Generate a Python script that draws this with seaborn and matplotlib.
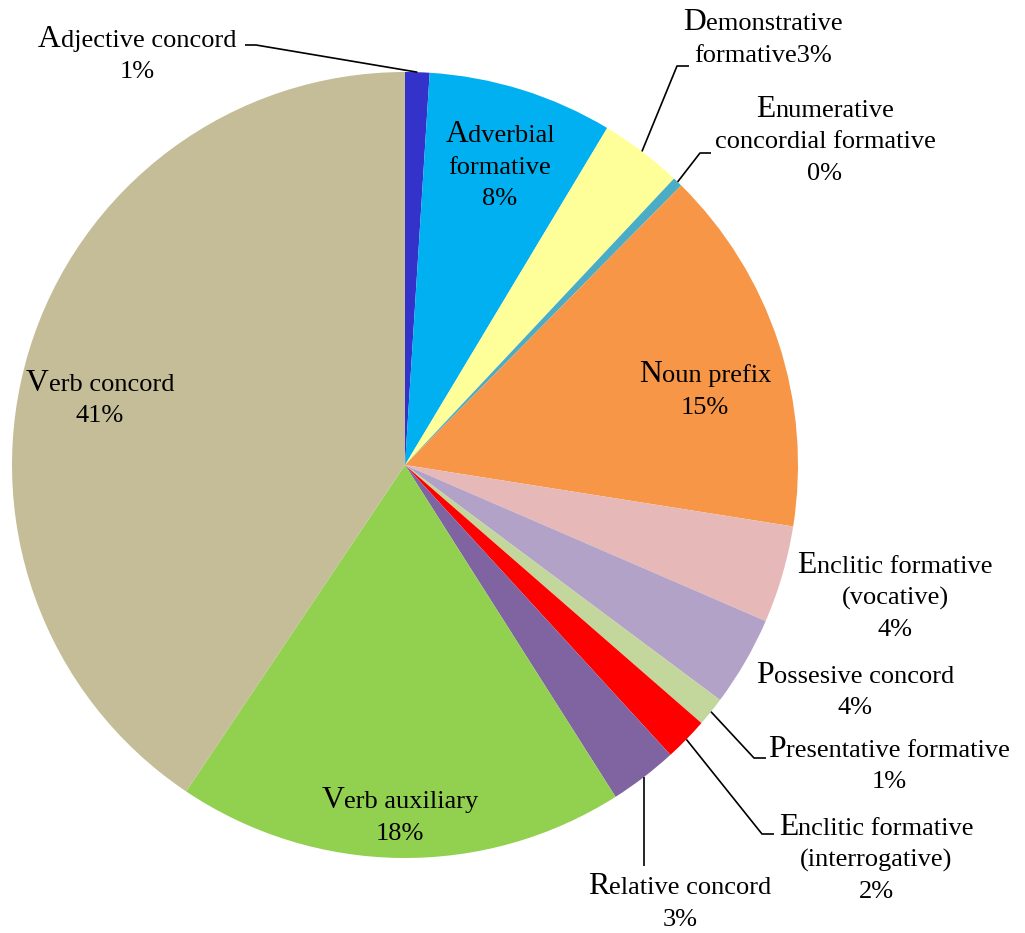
import numpy as np
import matplotlib
matplotlib.use("Agg")
import matplotlib.pyplot as plt
import seaborn as sns

# ---- data ----
categories = ["Adjective concord", "Adverbial formative", "Demonstrative formative",
              "Enumerative concordial formative", "Noun prefix", "Enclitic formative (vocative)",
              "Possesive concord", "Presentative formative", "Enclitic formative (interrogative)",
              "Relative concord", "Verb auxiliary", "Verb concord"]
values = [1.0, 7.6, 3.4, 0.4, 15.1, 4.0, 3.7, 1.2, 1.8, 2.8, 18.4, 40.6]
label_lines = [["Adjective concord"], ["Adverbial", "formative"], ["Demonstrative", "formative{p}"],
               ["Enumerative", "concordial formative"], ["Noun prefix"], ["Enclitic formative", "(vocative)"],
               ["Possesive concord"], ["Presentative formative"], ["Enclitic formative", "(interrogative)"],
               ["Relative concord"], ["Verb auxiliary"], ["Verb concord"]]
colors = ["#3333CC", "#00B0F0", "#FFFF99", "#4BACC6", "#F79646", "#E6B9B8",
          "#B3A2C7", "#C3D69B", "#FF0000", "#8064A2", "#92D050", "#C4BD97"]

sns.set_style("white")
plt.rcParams["font.family"] = ["Liberation Serif", "DejaVu Serif"]

W, H = 1025, 933
fig = plt.figure(figsize=(W / 100, H / 100), dpi=100)
ax = fig.add_axes([0, 0, 1, 1])

CX, CY, R = 405, 465, 393
wedges, _ = ax.pie(values, colors=sns.color_palette(colors), startangle=90, counterclock=False,
                   center=(CX, H - CY), radius=R, wedgeprops=dict(linewidth=0), frame=True)
ax.set_xlim(0, W)
ax.set_ylim(0, H)
ax.set_aspect("equal")
ax.axis("off")

total = sum(values)
pcts = [int(round(v / total * 100)) for v in values]

# layout: (center x, first baseline y in pixels from top)
layout = {
    0: (137, 47), 1: (500, 142), 2: (763, 30), 3: (825, 117), 4: (705, 382), 5: (895, 573),
    6: (855, 683), 7: (889, 757), 8: (876, 835), 9: (680, 894), 10: (400, 808), 11: (100, 391),
}
leaders = {
    0: [(245, 45), (256, 45)],
    2: [(689, 66), (677, 66)],
    3: [(711, 153), (700, 153)],
    7: [(766, 758), (754, 758)],
    8: [(774, 834), (762, 834)],
    9: [(None, 866)],
}

FS = 19.0
LS = 31.5
fig.canvas.draw()
renderer = fig.canvas.get_renderer()


def draw_line(xc, ybase, s):
    y = H - ybase
    if s and s[0].isupper():
        t1 = ax.text(0, y, s[0], fontsize=FS * 1.2, ha="left", va="baseline", color="black")
        t2 = ax.text(0, y, s[1:], fontsize=FS, ha="left", va="baseline", color="black")
        w1 = t1.get_window_extent(renderer).width
        w2 = t2.get_window_extent(renderer).width
        x0 = xc - (w1 + w2) / 2
        t1.set_x(x0)
        t2.set_x(x0 + w1)
    else:
        ax.text(xc, y, s, fontsize=FS, ha="center", va="baseline", color="black")


for i, lines in enumerate(label_lines):
    xc, yb = layout[i]
    txt = [l.replace("{p}", f"{pcts[i]}%") for l in lines]
    if "{p}" not in "".join(lines):
        txt = txt + [f"{pcts[i]}%"]
    for k, l in enumerate(txt):
        draw_line(xc, yb + k * LS, l)

for i, pts in leaders.items():
    w = wedges[i]
    mid = np.deg2rad((w.theta1 + w.theta2) / 2)
    sx, sy = CX + R * np.cos(mid), CY - R * np.sin(mid)
    path = [(sx, sy)] + [(sx if p[0] is None else p[0], p[1]) for p in pts[::-1]]
    xs = [p[0] for p in path]
    ys = [H - p[1] for p in path]
    ax.plot(xs, ys, color="black", lw=1.2, solid_capstyle="butt")

fig.savefig("out.png", dpi=100)
